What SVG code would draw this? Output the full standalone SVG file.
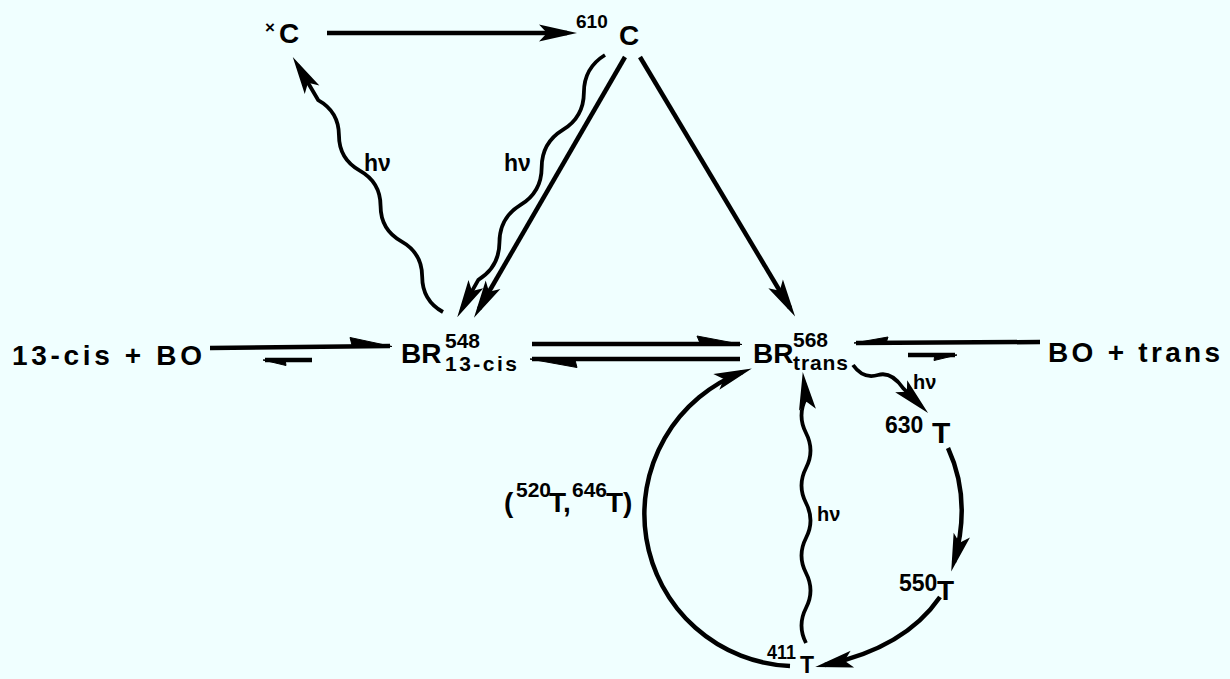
<svg xmlns="http://www.w3.org/2000/svg" width="1230" height="679" viewBox="0 0 1230 679">
<style>
text{font-family:"Liberation Sans",Arial,sans-serif;font-weight:bold;fill:#000}
.big{font-size:28px}
.sup{font-size:21px}
.hv{font-size:23px}
.ln{fill:none;stroke:#000;stroke-width:4.5}
.wv{fill:none;stroke:#000;stroke-width:3.8}
.hp{fill:#000;stroke:#000;stroke-width:1;stroke-linejoin:round}
</style>
<defs>
<marker id="ah" viewBox="-42 -10 44 20" refX="-10" refY="0" markerWidth="44" markerHeight="20" markerUnits="userSpaceOnUse" orient="auto">
<path d="M0,0 L-38,-8.5 L-30,0 L-38,8.5 Z" fill="#000"/>
</marker>
</defs>
<rect width="1230" height="679" fill="#F0FFFF"/>

<g id="connectors">
<path class="ln" d="M327,33 L567,33" marker-end="url(#ah)"/>
<path class="ln" d="M625,57 L479,309" marker-end="url(#ah)"/>
<path class="ln" d="M640,57 L790,308" marker-end="url(#ah)"/>
<path class="wv" transform="translate(443,312) rotate(-120.5)" d="M0,0 q20.5,-12 41,0 t41,0 t41,0 t41,0 t41,0 t41,0 l40,0" marker-end="url(#ah)"/>
<text class="hv" x="364" y="171">hν</text>
<path class="wv" transform="translate(605,55) rotate(119.4)" d="M0,0 q21.5,12 43,0 t43,0 t43,0 t43,0 t43,0 t43,0 l33,0" marker-end="url(#ah)"/>
<text class="hv" x="504" y="171">hν</text>
<path class="ln" d="M210,348 L390,346"/>
<polygon class="hp" points="392,346.5 350,337.5 352,345"/>
<path class="ln" d="M265,360 L312,360"/>
<polygon class="hp" points="263,360 286,365.5 285,359"/>
<path class="ln" d="M532,344 L740,344"/>
<polygon class="hp" points="742,344.5 697,336 700,343"/>
<path class="ln" d="M532,359 L740,359"/>
<polygon class="hp" points="530,359 577,367.5 575,360"/>
<path class="ln" d="M856,343 L1040,342"/>
<polygon class="hp" points="854,343 888,337 886,343"/>
<path class="ln" d="M908,355 L955,355"/>
<polygon class="hp" points="957,355 934,360.5 935,354"/>
<path class="wv" d="M853,365 C860,375 868,378 878,375 C888,372 896,378 903,388 L921,406" marker-end="url(#ah)"/>
<text class="hv" x="913" y="389" style="font-size:20px">hν</text>
<path class="ln" d="M948,448 Q972,500 954,562" marker-end="url(#ah)"/>
<path class="ln" d="M940,597 Q905,648 825,665" marker-end="url(#ah)"/>
<path class="wv" d="M806,643 q-9,-17.5 0,-35 t0,-35 t0,-35 t0,-35 t0,-35 t0,-35 t0,-35 l-2,-16" marker-end="url(#ah)"/>
<text class="hv" x="817" y="521" style="font-size:20px">hν</text>
<path class="ln" d="M790,666 A152,152 0 0 1 742.5,372" marker-end="url(#ah)"/>
</g>

<g id="n-xC">
<text x="265" y="33" style="font-size:17px">×</text>
<text class="big" x="279" y="43">C</text>
</g>
<g id="n-610C">
<text x="576" y="28" style="font-size:19px">610</text>
<text class="big" x="619" y="45">C</text>
</g>
<g id="n-13cisBO">
<text class="big" x="12" y="365" textLength="190" lengthAdjust="spacing">13-cis + BO</text>
</g>
<g id="n-BR13cis">
<text class="big" x="401" y="363">BR</text>
<text class="sup" x="445" y="348">548</text>
<text class="sup" x="445" y="371" textLength="72" lengthAdjust="spacing">13-cis</text>
</g>
<g id="n-BRtrans">
<text class="big" x="753" y="363">BR</text>
<text class="sup" x="793" y="347">568</text>
<text class="sup" x="793" y="370" textLength="55" lengthAdjust="spacing">trans</text>
</g>
<g id="n-BOtrans">
<text class="big" x="1048" y="362" textLength="172" lengthAdjust="spacing">BO + trans</text>
</g>
<g id="n-630T">
<text x="885" y="433" style="font-size:23px">630</text>
<text x="932" y="443" style="font-size:30px">T</text>
</g>
<g id="n-550T">
<text x="899" y="591" style="font-size:23px">550</text>
<text class="big" x="937" y="600">T</text>
</g>
<g id="n-411T">
<text x="767" y="659" style="font-size:20px" textLength="29" lengthAdjust="spacingAndGlyphs">411</text>
<text x="800" y="673" style="font-size:23px">T</text>
</g>
<g id="n-520T646T">
<text class="big" x="504" y="512">(</text>
<text class="sup" x="516" y="497">520</text>
<text class="big" x="549" y="512">T,</text>
<text class="sup" x="572" y="497">646</text>
<text class="big" x="606" y="512">T)</text>
</g>
</svg>
